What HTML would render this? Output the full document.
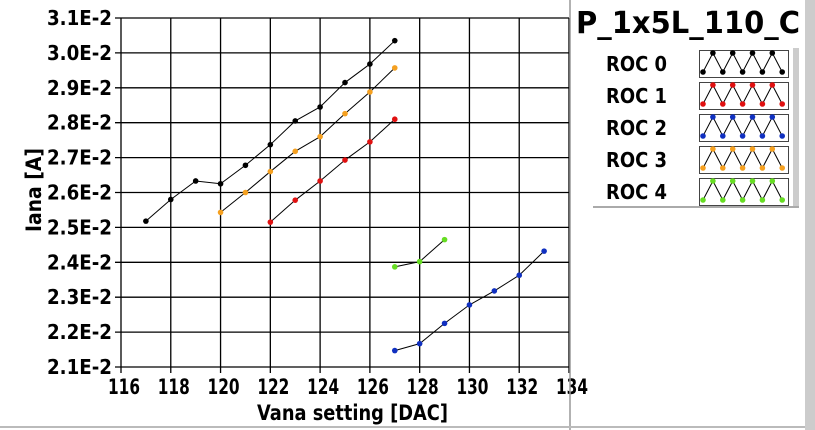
<!DOCTYPE html>
<html><head><meta charset="utf-8"><style>
body{margin:0;background:#fff;}
svg{display:block;font-family:"DejaVu Sans","Liberation Sans",sans-serif;font-weight:bold;}
</style></head><body>
<svg id="s" width="815" height="430" xmlns="http://www.w3.org/2000/svg"></svg>
<script>
const s=document.getElementById('s');
let h='';
const L=121,R=569,T=18,B=367;
const X=v=>L+(v-116)*(R-L)/18, Y=v=>B-(v-2.1)*(B-T)/1.0;
h+='<rect x="0" y="0" width="815" height="430" fill="#fff"/>';
for(let i=0;i<=9;i++){let x=X(116+2*i);h+=`<line x1="${x}" y1="${T}" x2="${x}" y2="${B+6}" stroke="#000" stroke-width="1.3"/>`;
h+=`<text x="${x+3-16}" y="394" font-size="21" textLength="32" lengthAdjust="spacingAndGlyphs">${116+2*i}</text>`;}
for(let i=0;i<=10;i++){let v=2.1+i*0.1,y=Y(v);h+=`<line x1="${L-6}" y1="${y}" x2="${R}" y2="${y}" stroke="#000" stroke-width="1.3"/>`;
h+=`<text x="47" y="${y+7}" font-size="20" textLength="65" lengthAdjust="spacingAndGlyphs">${v.toFixed(1)}E-2</text>`;}
h+=`<line x1="570" y1="0" x2="570" y2="430" stroke="#999" stroke-width="1.5"/>`;
h+=`<line x1="0" y1="427" x2="815" y2="427" stroke="#bbb" stroke-width="2"/>`;
h+=`<rect x="805" y="0" width="10" height="430" fill="#ccc"/>`;
h+=`<text x="257" y="420" font-size="21" textLength="191" lengthAdjust="spacingAndGlyphs">Vana setting [DAC]</text>`;
h+=`<text transform="translate(41,232) rotate(-90)" font-size="21" textLength="84" lengthAdjust="spacingAndGlyphs">Iana [A]</text>`;
const D=[['#000',117,[2.518,2.58,2.633,2.625,2.678,2.737,2.805,2.845,2.915,2.968,3.035]],
['#e01010',122,[2.515,2.578,2.633,2.693,2.745,2.81]],
['#1030c0',127,[2.147,2.167,2.225,2.278,2.318,2.363,2.432]],
['#f5a020',120,[2.543,2.6,2.66,2.718,2.76,2.826,2.888,2.957]],
['#66dd22',127,[2.387,2.402,2.465]]];
D.forEach(([c,x0,a])=>{let p=a.map((v,i)=>X(x0+i)+','+Y(v)).join(' ');
h+=`<polyline points="${p}" fill="none" stroke="#000" stroke-width="1"/>`;
a.forEach((v,i)=>h+=`<circle cx="${X(x0+i)}" cy="${Y(v)}" r="2.8" fill="${c}"/>`);});
h+=`<text x="576" y="33" font-size="30" textLength="224" lengthAdjust="spacingAndGlyphs">P_1x5L_110_C</text>`;
h+=`<rect x="793" y="48" width="6" height="160" fill="#ccc"/><line x1="593" y1="207" x2="799" y2="207" stroke="#aaa" stroke-width="2"/>`;
const names=['ROC 0','ROC 1','ROC 2','ROC 3','ROC 4'];
D.forEach(([c],k)=>{let y0=50+k*32;
h+=`<text x="606" y="${y0+21}" font-size="20" textLength="61" lengthAdjust="spacingAndGlyphs">${names[k]}</text>`;
h+=`<rect x="699.5" y="${y0+.5}" width="89" height="27" fill="#fff" stroke="#444"/>`;
let pts=[];for(let j=0;j<=8;j++){pts.push([703+j*9.9,j%2?y0+3:y0+22]);}
h+=`<polyline points="${pts.map(p=>p.join(',')).join(' ')}" fill="none" stroke="#000"/>`;
pts.forEach(p=>h+=`<circle cx="${p[0]}" cy="${p[1]}" r="2.8" fill="${c}"/>`);});
s.innerHTML=h;
</script>
</body></html>
